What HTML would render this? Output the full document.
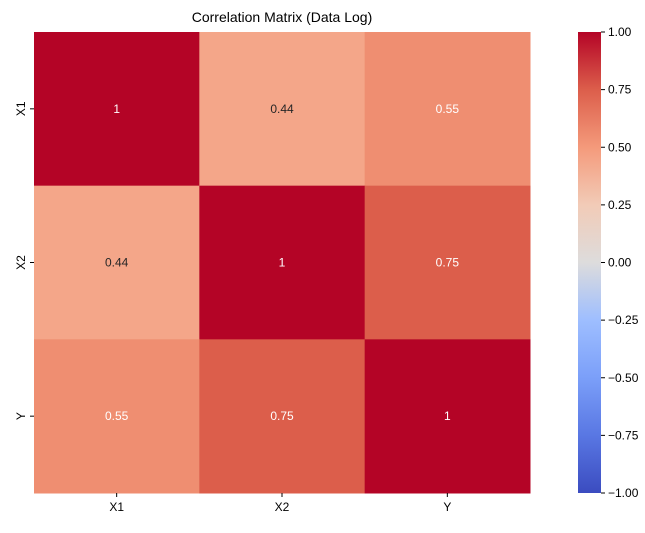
<!DOCTYPE html>
<html><head><meta charset="utf-8"><style>body{margin:0;background:#fff}svg{font-family:"Liberation Sans","DejaVu Sans",sans-serif}</style></head>
<body>
<svg id="c" width="645" height="528" xmlns="http://www.w3.org/2000/svg">
<defs><linearGradient id="g" x1="0" y1="1" x2="0" y2="0">
<stop offset="0" stop-color="#3b4cc0"/><stop offset="0.125" stop-color="#5977e3"/><stop offset="0.25" stop-color="#7b9ff9"/><stop offset="0.375" stop-color="#9ebeff"/><stop offset="0.5" stop-color="#dddcdc"/><stop offset="0.625" stop-color="#f2cbb7"/><stop offset="0.75" stop-color="#f49a7b"/><stop offset="0.875" stop-color="#dc5e4b"/><stop offset="1" stop-color="#b40426"/></linearGradient></defs>
<text x="282" y="22" text-anchor="middle" font-size="14">Correlation Matrix (Data Log)</text>
</svg>
<script>
const labels=["X1","X2","Y"];
const matrix=[[1,0.44,0.55],[0.44,1,0.75],[0.55,0.75,1]];
const cbTicks=[-1,-0.75,-0.5,-0.25,0,0.25,0.5,0.75,1];
const svg=document.getElementById('c');const NS="http://www.w3.org/2000/svg";
const L=34,T=32,W=496,H=461,cw=W/3,ch=H/3;
const stops=[[59,76,192],[89,119,227],[123,159,249],[158,190,255],[221,220,220],[242,203,183],[244,154,123],[220,94,75],[180,4,38]];
function col(v){let t=(v+1)/2*8;let i=Math.min(7,Math.floor(t)),f=t-i;let a=stops[i],b=stops[i+1];return `rgb(${a.map((x,k)=>Math.round(x+(b[k]-x)*f)).join(',')})`;}
function el(n,a,txt){const e=document.createElementNS(NS,n);for(const k in a)e.setAttribute(k,a[k]);if(txt!=null)e.textContent=txt;svg.appendChild(e);return e;}
matrix.forEach((row,r)=>row.forEach((v,c)=>{
 const rc=el('rect',{x:L+c*cw,y:T+r*ch,width:cw+0.5,height:ch+0.5,fill:col(v)});
 
 
 const t=el('text',{x:L+(c+0.5)*cw,y:T+(r+0.5)*ch+4,'text-anchor':'middle','font-size':12,fill:v>0.5?'#fff':'#262626'},String(v));
 
 
}));
labels.forEach((s,i)=>{
 const x=L+(i+0.5)*cw;
 el('line',{x1:x,x2:x,y1:T+H,y2:T+H+4,stroke:'#000'});
 const t=el('text',{x:x,y:T+H+18,'text-anchor':'middle','font-size':12},s);
 
 
 const y=T+(i+0.5)*ch;
 el('line',{x1:L-4,x2:L,y1:y,y2:y,stroke:'#000'});
 const u=el('text',{x:0,y:0,'text-anchor':'middle','font-size':12,transform:`translate(${L-9},${y}) rotate(-90)`},s);
 
 
});
const cx=578,cwid=23;
const cb=el('rect',{x:cx,y:T,width:cwid,height:H,fill:'url(#g)'});


cbTicks.forEach(v=>{
 const y=T+H-(v+1)/2*H;
 el('line',{x1:cx+cwid,x2:cx+cwid+4,y1:y,y2:y,stroke:'#000'});
 const t=el('text',{x:cx+cwid+7,y:y+4,'font-size':12},(v<0?'\u2212':'')+Math.abs(v).toFixed(2));
 
 
});
</script>
</body></html>
